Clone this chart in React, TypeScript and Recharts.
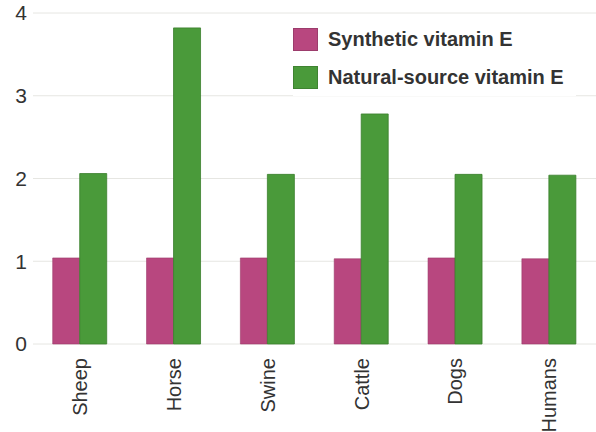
import React from "react"
import { BarChart, Bar, XAxis, YAxis, CartesianGrid } from "recharts"

const species = ["Sheep", "Horse", "Swine", "Cattle", "Dogs", "Humans"]
const synthetic = [1.04, 1.04, 1.04, 1.03, 1.04, 1.03]
const natural = [2.06, 3.82, 2.05, 2.78, 2.05, 2.04]
const yTicks = [0, 1, 2, 3, 4]

const PINK = "#b8477f"
const GREEN = "#4a9a3a"
const FONT = "'Liberation Sans', Arial, Helvetica, sans-serif"

const legendItems = [
    { label: "Synthetic vitamin E", color: PINK },
    { label: "Natural-source vitamin E", color: GREEN },
]

const data = species.map((name, i) => ({
    name,
    synthetic: synthetic[i],
    natural: natural[i],
}))

const XTick = ({ x, y, payload }: any) => (
    <text
        x={x}
        y={y}
        dx={-14}
        dy="0.36em"
        transform={`rotate(-90 ${x} ${y})`}
        textAnchor="end"
        fill="#333"
        fontSize={20}
        fontFamily={FONT}
    >
        {payload.value}
    </text>
)

export default function App() {
    return (
        <div style={{ position: "absolute", left: 0, top: 0, width: 596, height: 432, background: "#fff" }}>
            <BarChart
                width={596}
                height={432}
                data={data}
                margin={{ top: 13, right: 0, left: 0, bottom: 0 }}
                barCategoryGap="21%"
                barGap={0}
            >
                <CartesianGrid horizontal vertical={false} stroke="#e6e6e2" />
                <XAxis
                    dataKey="name"
                    height={88}
                    tickLine={false}
                    axisLine={false}
                    tickSize={0}
                    tickMargin={0}
                    interval={0}
                    tick={<XTick />}
                />
                <YAxis
                    width={33}
                    domain={[0, 4]}
                    ticks={yTicks}
                    tickLine={false}
                    axisLine={false}
                    tickSize={0}
                    tickMargin={6}
                    tick={{ fill: "#333", fontSize: 21, fontFamily: FONT }}
                />
                <Bar dataKey="synthetic" name="Synthetic vitamin E" fill={PINK} stroke="#9c3a6a" strokeWidth={0.6} isAnimationActive={false} />
                <Bar dataKey="natural" name="Natural-source vitamin E" fill={GREEN} stroke="#3a7f2c" strokeWidth={0.8} isAnimationActive={false} />
            </BarChart>

            {/* legend sits on top of the plot, like the printed figure */}
            <div style={{ position: "absolute", left: 293, top: 20, fontFamily: FONT, background: "#fff", paddingRight: 12 }}>
                {legendItems.map((item) => (
                    <div key={item.label} style={{ display: "flex", alignItems: "center", height: 38 }}>
                        <span
                            style={{
                                display: "inline-block",
                                width: 23,
                                height: 21,
                                background: item.color,
                                border: "1px solid rgba(0,0,0,0.15)",
                                marginRight: 10,
                            }}
                        />
                        <span style={{ fontSize: 20, color: "#333", fontWeight: 700 }}>{item.label}</span>
                    </div>
                ))}
            </div>
        </div>
    )
}
